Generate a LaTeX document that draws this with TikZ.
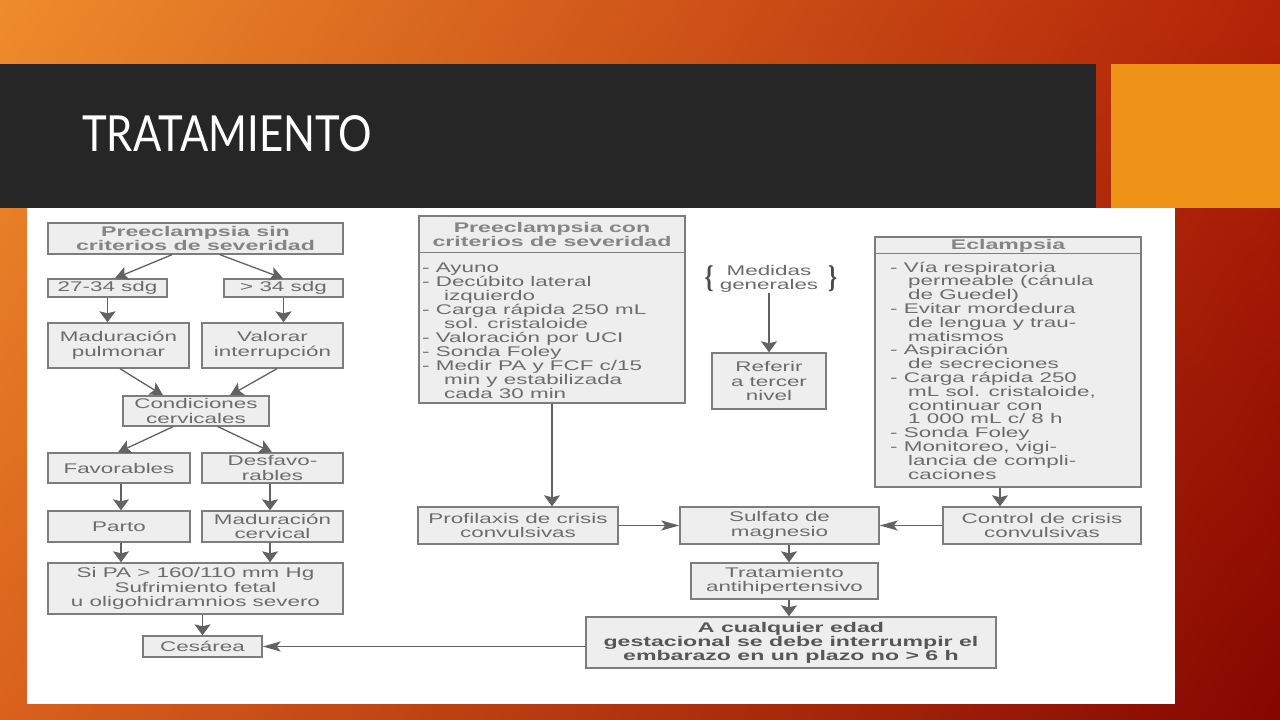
\documentclass[tikz,border=0pt]{standalone}
\usepackage{fontspec}
\usetikzlibrary{arrows.meta,calc,shadings}
\newfontfamily\dreg[FakeStretch=1.6]{Liberation Sans}
\newfontfamily\dbold[FakeStretch=1.65]{Liberation Sans}
\newfontfamily\tfont{Lato}
\newfontfamily\brfont{Liberation Serif}
\definecolor{bgUL}{HTML}{EE8C2C}
\definecolor{bgUR}{HTML}{B32307}
\definecolor{bgLL}{HTML}{D9611C}
\definecolor{bgLR}{HTML}{850600}
\definecolor{barc}{HTML}{262626}
\definecolor{orc}{HTML}{EE9318}
\definecolor{boxf}{HTML}{EEEEEE}
\definecolor{bordc}{HTML}{7D7D7D}
\definecolor{txtc}{HTML}{6C6C6C}
\definecolor{hdrc}{HTML}{858585}
\definecolor{darkt}{HTML}{575757}
\definecolor{brc}{HTML}{4A4A4A}
\definecolor{arrc}{HTML}{626262}
\begin{document}
\begin{tikzpicture}[x=1pt,y=-1pt,
  box/.style={draw=bordc, fill=boxf, line width=1.4pt, inner sep=0pt, text=txtc, align=center,
    font=\dreg\fontsize{14}{14.5}\selectfont},
  hbox/.style={box, text=hdrc, font=\dbold\bfseries\fontsize{14}{13.5}\selectfont},
  hdrtxt/.style={inner sep=0pt, text=hdrc, align=center, font=\dbold\bfseries\fontsize{14}{13.5}\selectfont},
  plain/.style={inner sep=0pt, text=txtc, align=center, font=\dreg\fontsize{14}{14}\selectfont},
  lst/.style={anchor=base west, inner sep=0pt, text=txtc, font=\dreg\fontsize{14}{14}\selectfont},
  brace/.style={inner sep=0pt, text=brc, font=\brfont\bfseries},
  divl/.style={draw=bordc, line width=1.4pt},
  varr/.style={draw=arrc, line width=1.4pt, -{Stealth[length=11pt,width=16pt,inset=2pt]}},
  harr/.style={draw=arrc, line width=1.2pt, -{Stealth[length=18pt,width=10pt,inset=4pt]}},
  darr/.style={draw=arrc, line width=1.3pt, -{Stealth[length=13pt,width=14pt,inset=3pt]}}
]
\useasboundingbox (0,0) rectangle (1280,720);
% background
\shade[upper left=bgUL, upper right=bgUR, lower left=bgLL, lower right=bgLR] (0,0) rectangle (1280,720);
\fill[barc] (0,64) rectangle (1096,208);
\fill[orc] (1111,64) rectangle (1280,208);
\fill[white] (27,208) rectangle (1175,704);
\node[anchor=south west, inner sep=0pt, text=white] (title) at (82,152) {\resizebox{290pt}{36pt}{\tfont TRATAMIENTO}};

% left column
\node[hbox, minimum width=295, minimum height=31] (P1) at (195.5,238.5) {Preeclampsia sin\\criterios de severidad};
\node[box, minimum width=119, minimum height=18] (A1) at (107.5,288) {27-34 sdg};
\node[box, minimum width=119, minimum height=18] (A2) at (283.5,288) {> 34 sdg};
\node[box, minimum width=141, minimum height=45] (B1) at (118.5,345.5) {Maduración\\pulmonar};
\node[box, minimum width=141, minimum height=45] (B2) at (272.5,345.5) {Valorar\\interrupción};
\node[box, minimum width=146, minimum height=30] (C) at (196,411) {Condiciones\\cervicales};
\node[box, minimum width=142, minimum height=30] (D1) at (119,468) {Favorables};
\node[box, minimum width=141, minimum height=30] (D2) at (272.5,468) {Desfavo-\\rables};
\node[box, minimum width=142, minimum height=31] (E1) at (119,526.5) {Parto};
\node[box, minimum width=141, minimum height=31] (E2) at (272.5,526.5) {Maduración\\cervical};
\node[box, minimum width=295, minimum height=51] (F) at (195.5,588.5) {Si PA > 160/110 mm Hg\\Sufrimiento fetal\\u oligohidramnios severo};
\node[box, minimum width=119, minimum height=21] (G) at (202.5,646.5) {Cesárea};

% middle
\node[box, minimum width=266, minimum height=187] (M) at (552,309.5) {};
\draw[divl] ($(M.north west)+(0,37)$) -- ($(M.north east)+(0,37)$);
\node[hdrtxt] (Mh) at (552,234.5) {Preeclampsia con\\criterios de severidad};
\foreach \t [count=\i] in {{- Ayuno},{- Decúbito lateral},{\hspace*{22pt}izquierdo},{- Carga rápida 250 mL},{\hspace*{22pt}sol. cristaloide},{- Valoración por UCI},{- Sonda Foley},{- Medir PA y FCF c/15},{\hspace*{22pt}min y estabilizada},{\hspace*{22pt}cada 30 min}}
  {\node[lst] (m\i) at (422,{272+14*(\i-1)}) {\t};}

\node[plain] (med) at (769,279) {Medidas\\generales};
\node[brace] (lbr) at (709,279) {\resizebox*{9pt}{26pt}{\{}};
\node[brace] (rbr) at (832.5,279) {\resizebox*{9pt}{26pt}{\}}};
\node[box, minimum width=114, minimum height=56] (R) at (769,381) {Referir\\a tercer\\nivel};

\node[box, minimum width=266, minimum height=250] (Ecl) at (1008,362) {};
\draw[divl] ($(Ecl.north west)+(0,17)$) -- ($(Ecl.north east)+(0,17)$);
\node[hdrtxt] (Eh) at (1008,245.5) {Eclampsia};
\foreach \t [count=\i] in {{- Vía respiratoria},{\hspace*{18pt}permeable (cánula},{\hspace*{18pt}de Guedel)},{- Evitar mordedura},{\hspace*{18pt}de lengua y trau-},{\hspace*{18pt}matismos},{- Aspiración},{\hspace*{18pt}de secreciones},{- Carga rápida 250},{\hspace*{18pt}mL sol. cristaloide,},{\hspace*{18pt}continuar con},{\hspace*{18pt}1 000 mL c/ 8 h},{- Sonda Foley},{- Monitoreo, vigi-},{\hspace*{18pt}lancia de compli-},{\hspace*{18pt}caciones}}
  {\node[lst] (e\i) at (890,{272+13.8*(\i-1)}) {\t};}

\node[box, minimum width=200, minimum height=37] (Pr) at (518,525.5) {Profilaxis de crisis\\convulsivas};
\node[box, minimum width=199, minimum height=37] (Sulf) at (779.5,525.5) {Sulfato de\\magnesio};
\node[box, minimum width=198, minimum height=37] (Ctrl) at (1042,525.5) {Control de crisis\\convulsivas};
\node[box, minimum width=187, minimum height=36] (Trat) at (784.5,581) {Tratamiento\\antihipertensivo};
\node[box, text=darkt, font=\dbold\bfseries\fontsize{14}{14}\selectfont, minimum width=410, minimum height=51] (H) at (791,642.5) {A cualquier edad\\gestacional se debe interrumpir el\\embarazo en un plazo no > 6 h};

% connectors left
\draw[darr] ([xshift=-23.5pt]P1.south) -- ([xshift=7.5pt]A1.north);
\draw[darr] ([xshift=24.5pt]P1.south) -- ([xshift=-0.5pt]A2.north);
\draw[varr] (A1.south) -- (A1.south |- B1.north);
\draw[varr] (A2.south) -- (A2.south |- B2.north);
\draw[darr] ([xshift=1.5pt]B1.south) -- ([xshift=-33pt]C.north);
\draw[darr] ([xshift=4.5pt]B2.south) -- ([xshift=34pt]C.north);
\draw[darr] ([xshift=-23pt]C.south) -- ([xshift=-1pt]D1.north);
\draw[darr] ([xshift=22pt]C.south) -- ([xshift=-0.5pt]D2.north);
\draw[varr] ([xshift=2pt]D1.south) -- ([xshift=2pt]E1.north);
\draw[varr] ([xshift=-2.5pt]D2.south) -- ([xshift=-2.5pt]E2.north);
\draw[varr] ([xshift=2pt]E1.south) -- ([xshift=2pt]E1.south |- F.north);
\draw[varr] ([xshift=-2.5pt]E2.south) -- ([xshift=-2.5pt]E2.south |- F.north);
\draw[varr] (G.north |- F.south) -- (G.north);
\draw[harr] (H.west |- G.east) -- (G.east);
% connectors middle / right
\draw[varr] (M.south) -- (M.south |- Pr.north);
\draw[varr] (med.south) -- (med.south |- R.north);
\draw[varr] ([xshift=-8pt]Ecl.south) -- ([xshift=-8pt]Ecl.south |- Ctrl.north);
\draw[harr] (Pr.east) -- (Sulf.west);
\draw[harr] (Ctrl.west) -- (Sulf.east);
\draw[varr] ([xshift=9.5pt]Sulf.south) -- ([xshift=9.5pt]Sulf.south |- Trat.north);
\draw[varr] ([xshift=4.5pt]Trat.south) -- ([xshift=4.5pt]Trat.south |- H.north);
\end{tikzpicture}
\end{document}
